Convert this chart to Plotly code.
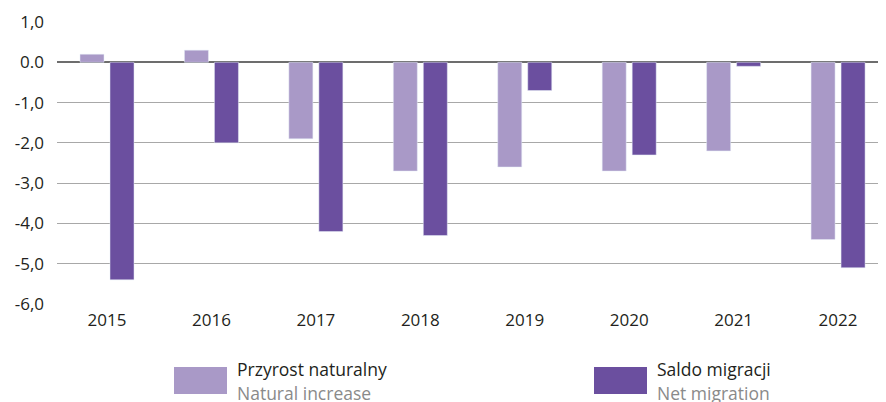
import plotly.graph_objects as go

years = ["2015", "2016", "2017", "2018", "2019", "2020", "2021", "2022"]
natural_increase = [0.2, 0.3, -1.9, -2.7, -2.6, -2.7, -2.2, -4.4]
net_migration = [-5.4, -2.0, -4.2, -4.3, -0.7, -2.3, -0.1, -5.1]
y_tick_vals = [1, 0, -1, -2, -3, -4, -5, -6]
y_tick_text = ["1,0", "0.0", "-1,0", "-2,0", "-3,0", "-4,0", "-5,0", "-6,0"]

light = "#a999c7"
dark = "#6b4f9f"
font_family = "Open Sans, Lato, sans-serif"
text_color = "#231f20"

fig = go.Figure()
fig.add_trace(go.Bar(x=years, y=natural_increase, marker_color=light, name="Przyrost naturalny"))
fig.add_trace(go.Bar(x=years, y=net_migration, marker_color=dark, name="Saldo migracji"))

# page has an 8px body margin; margins compensate so plot area sits at x 57-886, y 22-304
PX0, PW, PY1, PH = 57, 829, 304, 282
fig.update_layout(
    width=886, height=402,
    margin=dict(l=49, r=8, t=14, b=106, autoexpand=False),
    paper_bgcolor="white", plot_bgcolor="white",
    barmode="group", bargap=0.4254, bargroupgap=0.2,
    showlegend=False,
    font=dict(family=font_family, size=17, color=text_color),
)
fig.update_xaxes(
    range=[-0.4788, 7.459],
    showgrid=False, showline=False, ticks="", tickfont=dict(size=17, color=text_color),
    ticklabelstandoff=4, automargin=False,
)
fig.update_yaxes(
    range=[-6, 1], tickvals=y_tick_vals, ticktext=y_tick_text,
    showgrid=True, gridcolor="#a8a8a8", gridwidth=1.2,
    zeroline=True, zerolinecolor="#6d6d6d", zerolinewidth=1.5,
    showline=False, ticks="", ticklabelstandoff=12, automargin=False,
    tickfont=dict(size=17, color=text_color),
)

legend_items = [
    (174, 227, light, "Przyrost naturalny", "Natural increase"),
    (594, 647, dark, "Saldo migracji", "Net migration"),
]
for x0, x1, col, pl, en in legend_items:
    fig.add_shape(type="rect", xref="paper", yref="paper",
                  x0=(x0 - PX0) / PW, x1=(x1 - PX0) / PW,
                  y0=(PY1 - 394) / PH, y1=(PY1 - 367) / PH,
                  fillcolor=col, line=dict(width=0))
    fig.add_annotation(xref="paper", yref="paper", x=(x1 + 8 - PX0) / PW, y=(PY1 - 369) / PH,
                       text=pl, showarrow=False, xanchor="left", yanchor="middle",
                       font=dict(size=17.5, color=text_color))
    fig.add_annotation(xref="paper", yref="paper", x=(x1 + 8 - PX0) / PW, y=(PY1 - 393) / PH,
                       text=en, showarrow=False, xanchor="left", yanchor="middle",
                       font=dict(size=17.5, color="#8a8a8a"))

fig.write_html("out.html")
